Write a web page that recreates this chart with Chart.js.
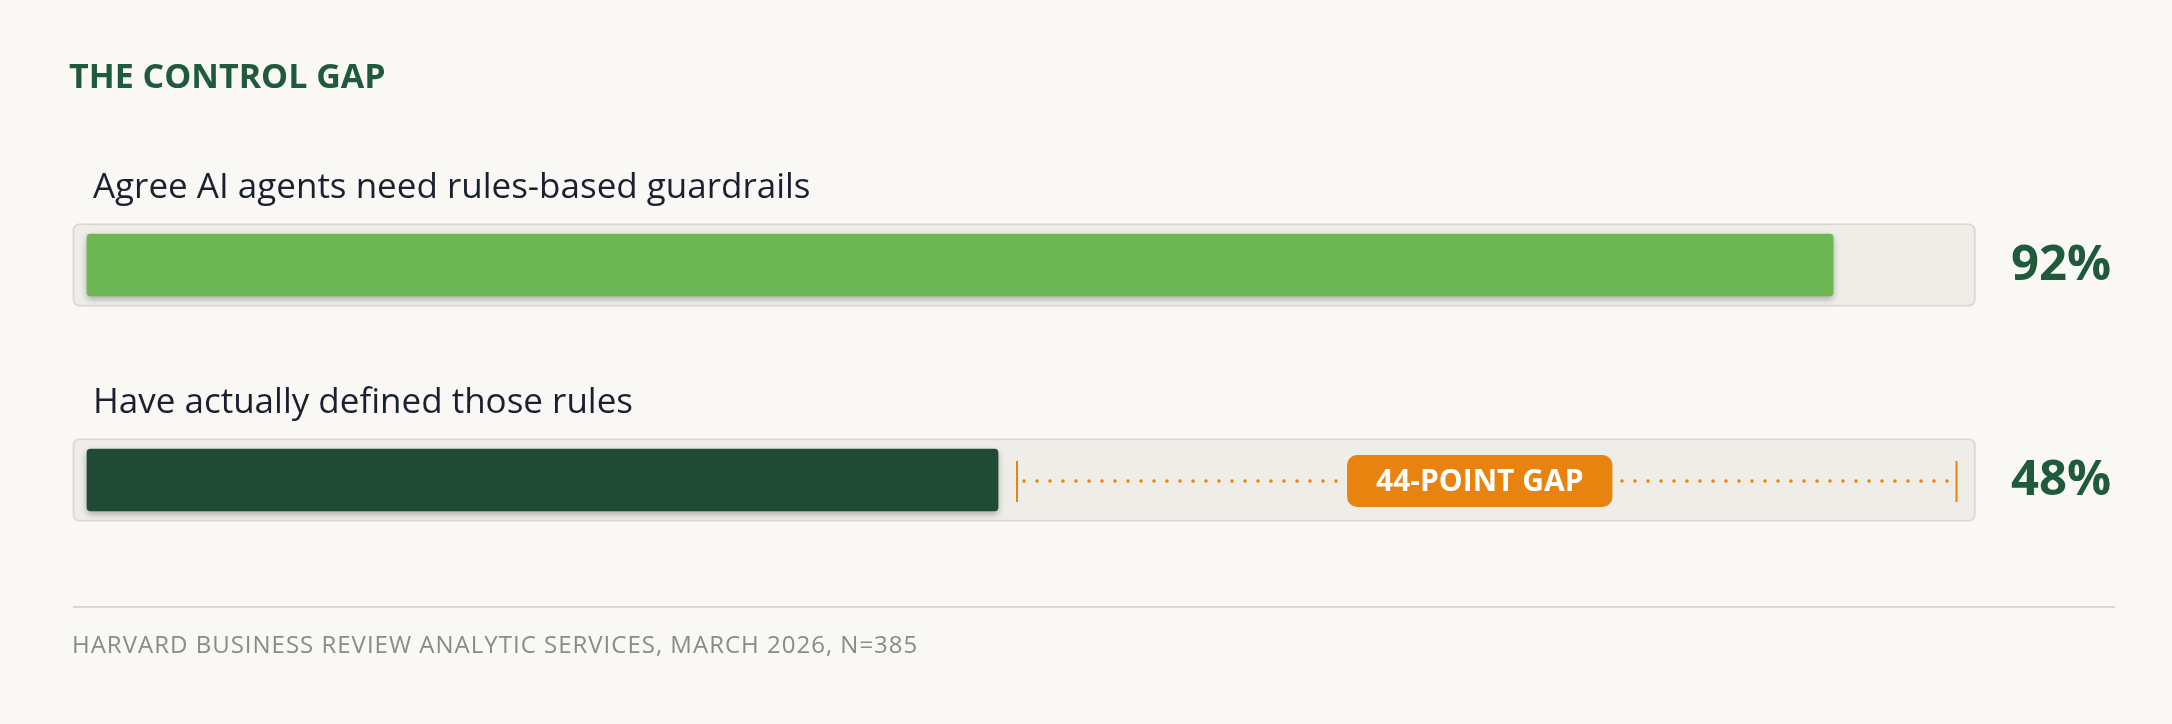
<!DOCTYPE html>
<html>
<head>
<meta charset="utf-8">
<script src="https://cdn.jsdelivr.net/npm/chart.js@4.4.1/dist/chart.umd.min.js"></script>
<style>
  html, body { margin: 0; padding: 0; background: #f9f8f4; }
  #wrap { width: 2172px; height: 724px; position: relative; }
</style>
</head>
<body>
<div id="wrap"><canvas id="c"></canvas></div>
<script>
// ---- data ----
const chartTitle = 'THE CONTROL GAP';
const categories = ['Agree AI agents need rules-based guardrails', 'Have actually defined those rules'];
const values = [92, 48];
const valueLabels = ['92%', '48%'];
const trackRange = [-0.75, 99.5];
const gapLabel = '44-POINT GAP';
const sourceNote = 'HARVARD BUSINESS REVIEW ANALYTIC SERVICES, MARCH 2026, N=385';

// ---- style ----
const BG = '#f9f8f4';
const barColors = ['#6cb653', '#1f4b36'];
const GREEN_TEXT = '#1e5a3b';
const ORANGE = '#e8830f';
const FONT = '"Open Sans", "Noto Sans", sans-serif';

function roundRect(ctx, x, y, w, h, r) {
  ctx.beginPath();
  ctx.moveTo(x + r, y);
  ctx.lineTo(x + w - r, y);
  ctx.arcTo(x + w, y, x + w, y + r, r);
  ctx.lineTo(x + w, y + h - r);
  ctx.arcTo(x + w, y + h, x + w - r, y + h, r);
  ctx.lineTo(x + r, y + h);
  ctx.arcTo(x, y + h, x, y + h - r, r);
  ctx.lineTo(x, y + r);
  ctx.arcTo(x, y, x + r, y, r);
  ctx.closePath();
}

const overlay = {
  id: 'overlay',
  beforeDraw(chart) {
    const ctx = chart.ctx;
    ctx.save();
    ctx.fillStyle = BG;
    ctx.fillRect(0, 0, chart.width, chart.height);
    ctx.restore();
  },
  beforeDatasetDraw(chart, args) {
    if (args.index === 1) {
      const ctx = chart.ctx;
      ctx.save();
      ctx.shadowColor = 'rgba(0,0,0,0.28)';
      ctx.shadowBlur = 6;
      ctx.shadowOffsetY = 3;
    }
  },
  afterDatasetDraw(chart, args) {
    if (args.index === 1) chart.ctx.restore();
  },
  afterDatasetsDraw(chart) {
    const ctx = chart.ctx;
    const xs = chart.scales.x;
    const meta = chart.getDatasetMeta(1);
    const area = chart.chartArea;
    ctx.save();

    // title
    ctx.fillStyle = GREEN_TEXT;
    ctx.font = 'bold 34px ' + FONT;
    ctx.textBaseline = 'alphabetic';
    ctx.textAlign = 'left';
    ctx.fillText(chartTitle, 69, 88);

    // category labels + values
    meta.data.forEach((el, i) => {
      const top = el.y - el.height / 2;
      ctx.fillStyle = '#1b2030';
      ctx.font = '35px ' + FONT;
      ctx.textAlign = 'left';
      ctx.textBaseline = 'alphabetic';
      ctx.fillText(categories[i], el.base + 6, top - 36);

      ctx.fillStyle = GREEN_TEXT;
      ctx.font = 'bold 49px ' + FONT;
      ctx.textBaseline = 'middle';
      ctx.fillText(valueLabels[i], area.right + 26, el.y + 1);
    });

    // gap annotation on the second row
    const el2 = meta.data[1];
    const gx0 = xs.getPixelForValue(values[1]) + 19;
    const gx1 = xs.getPixelForValue(trackRange[1]) - 19;
    const gy = el2.y + 1;
    ctx.strokeStyle = ORANGE;
    ctx.lineWidth = 2;
    ctx.beginPath();
    ctx.moveTo(gx0, gy - 20); ctx.lineTo(gx0, gy + 21);
    ctx.moveTo(gx1, gy - 20); ctx.lineTo(gx1, gy + 21);
    ctx.stroke();
    ctx.fillStyle = ORANGE;
    for (let x = gx0 + 7; x < gx1 - 3; x += 13) {
      ctx.beginPath();
      ctx.arc(x, gy, 1.8, 0, Math.PI * 2);
      ctx.fill();
    }
    // badge
    ctx.font = 'bold 30px ' + FONT;
    const tw = ctx.measureText(gapLabel).width;
    const bw = tw + 58, bh = 52;
    const cx = (gx0 + gx1) / 2 - 7;
    ctx.fillStyle = ORANGE;
    roundRect(ctx, cx - bw / 2, gy - bh / 2, bw, bh, 10);
    ctx.fill();
    ctx.fillStyle = '#ffffff';
    ctx.textAlign = 'center';
    ctx.textBaseline = 'middle';
    ctx.fillText(gapLabel, cx, gy + 1);

    // footer rule and source
    ctx.strokeStyle = '#dad8d2';
    ctx.lineWidth = 2;
    ctx.beginPath();
    ctx.moveTo(73, 607); ctx.lineTo(2115, 607);
    ctx.stroke();
    ctx.fillStyle = '#8a8a8a';
    ctx.font = '24px ' + FONT;
    ctx.textAlign = 'left';
    ctx.textBaseline = 'alphabetic';
    try { ctx.letterSpacing = '1px'; } catch (e) {}
    ctx.fillText(sourceNote, 72, 653);
    try { ctx.letterSpacing = '0px'; } catch (e) {}

    ctx.restore();
  }
};

new Chart(document.getElementById('c'), {
  type: 'bar',
  data: {
    labels: categories,
    datasets: [
      {
        label: 'track',
        data: categories.map(() => trackRange),
        backgroundColor: '#efede8',
        borderColor: '#dcd8d0',
        borderWidth: 2,
        borderRadius: 7,
        borderSkipped: false,
        barThickness: 83,
        grouped: false,
        order: 2
      },
      {
        label: 'share',
        data: values,
        backgroundColor: barColors,
        borderWidth: 0,
        borderRadius: 4,
        borderSkipped: false,
        barThickness: 62,
        grouped: false,
        order: 1
      }
    ]
  },
  options: {
    indexAxis: 'y',
    responsive: true,
    maintainAspectRatio: false,
    animation: false,
    devicePixelRatio: 1,
    layout: { padding: { left: 68, right: 187, top: 157.5, bottom: 136.5 } },
    scales: {
      x: { display: false, min: -1, max: 100 },
      y: { display: false, offset: true }
    },
    plugins: {
      legend: { display: false },
      tooltip: { enabled: false },
      title: { display: false }
    }
  },
  plugins: [overlay]
});
</script>
</body>
</html>
